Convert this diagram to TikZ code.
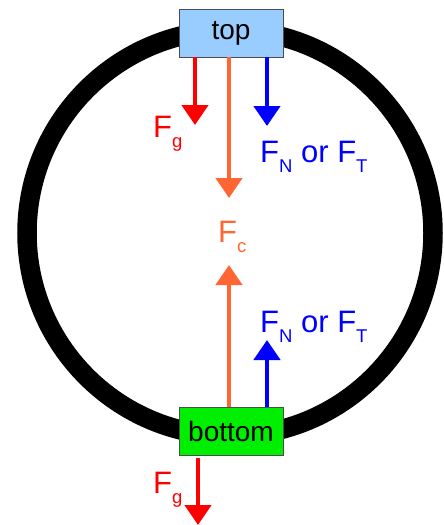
\documentclass[tikz,border=0pt]{standalone}
\usepackage{fontspec}
\setmainfont{Liberation Sans}
\usetikzlibrary{arrows.meta}
\definecolor{fred}{HTML}{FF0000}
\definecolor{fblue}{HTML}{0000FF}
\definecolor{forange}{HTML}{FF6633}
\definecolor{topblue}{HTML}{99CCFF}
\definecolor{botgreen}{HTML}{00EE00}
\newcommand\sbs[1]{\raisebox{-10pt}{\fontsize{18.5}{18.5}\selectfont #1}}
\begin{document}
\begin{tikzpicture}[x=1pt,y=-1pt,
  force/.style={line width=4.5pt,-{Triangle[width=26pt,length=20pt]}},
  box/.style={draw=black!70,line width=0.8pt,minimum width=104pt,minimum height=48pt,inner sep=0pt,font=\fontsize{28}{28}\selectfont},
  lbl/.style={anchor=base west,inner sep=0pt,font=\fontsize{31}{31}\selectfont}]
\useasboundingbox (0,0) rectangle (444,525);
\draw[line width=19.5pt] (230,233) circle (203pt);
\node[box,fill=topblue] (top) at (231,33) {top};
\node[box,fill=botgreen] (bottom) at (231,431.5) {bottom};
% top arrows
\coordinate (fgt) at (195,125);
\coordinate (fct) at (229,198);
\coordinate (fnt) at (267,126);
\draw[force,fred] (top.south -| fgt) -- (fgt);
\draw[force,forange] (top.south -| fct) -- (fct);
\draw[force,fblue] (top.south -| fnt) -- (fnt);
% bottom arrows
\coordinate (fcb) at (229,265);
\coordinate (fnb) at (267,340);
\coordinate (fgb) at (198,525);
\draw[force,forange] (bottom.north -| fcb) -- (fcb);
\draw[force,fblue] (bottom.north -| fnb) -- (fnb);
\draw[force,fred] ([yshift=-2pt]bottom.south -| fgb) -- (fgb);
% labels
\node[lbl,text=fred] (lfgt) at (153,137) {F\sbs{g}};
\node[lbl,text=fblue] (lfnt) at (260,162) {F\sbs{N} or F\sbs{T}};
\node[lbl,text=forange] (lfc) at (218,242) {F\sbs{c}};
\node[lbl,text=fblue] (lfnb) at (260,332) {F\sbs{N} or F\sbs{T}};
\node[lbl,text=fred] (lfgb) at (153,493) {F\sbs{g}};
\end{tikzpicture}
\end{document}
